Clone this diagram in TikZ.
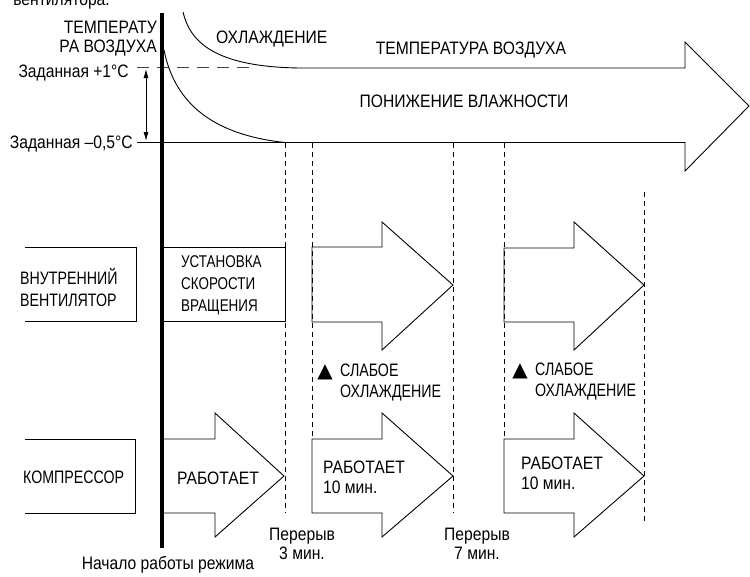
\documentclass[tikz,border=0pt]{standalone}
\usepackage{fontspec}
\setmainfont[FakeStretch=0.87]{Liberation Sans}
\newfontfamily\narrowfont[FakeStretch=0.79]{Liberation Sans}
\newfontfamily\symfont{DejaVu Sans}
\usetikzlibrary{arrows.meta}

\begin{document}
\begin{tikzpicture}[x=1pt,y=-1pt,
  lbl/.style={inner sep=0pt,font=\fontsize{18}{20}\selectfont},
  blk/.style={line width=0.9pt,line join=miter},
  tick/.style={line width=0.6pt,dash pattern=on 5pt off 4pt},
  tri/.style={inner sep=0pt,font=\fontsize{20}{20}\selectfont\symfont}]
\useasboundingbox (0,0) rectangle (750,576);

%Shape: set point +1 (dashed)
\draw [line width=0.8pt,black!75,dash pattern=on 12pt off 8pt] (137,67.5) -- (255,67.5);
%Shape: big arrow, air temperature
\draw [blk] (183,12) .. controls (190,42) and (215,67) .. (300,68) -- (685,68) -- (685,42) -- (749,106) -- (685,171) -- (685,142.5) -- (137,142.5);
%Shape: lower curve
\draw [blk] (164,50) .. controls (175,105) and (215,135) .. (285,142.5);

%Shape: start line
\draw [line width=3.5pt] (162,13) -- (162,548);

% set point span
\coordinate (hi) at (146,69);
\coordinate (lo) at (146,141);
\draw [line width=0.8pt,{Latex[length=9pt,width=5pt]}-{Latex[length=9pt,width=5pt]}] (hi) -- (lo);

%Shape: dashed time marks
\draw [tick] (285,143) -- (285,513);
\draw [tick] (312,143) -- (312,439);
\draw [tick] (453,143) -- (453,513);
\draw [tick] (504,143) -- (504,439);
\draw [tick] (644,192) -- (644,523);

%Shape: fan row
\draw [blk] (25,247) -- (136,247) -- (136,321) -- (25,321);
\draw [blk] (162,247) rectangle (285,321);
\draw [blk] (312,247) -- (382,247) -- (382,222) -- (453,285) -- (382,350) -- (382,322) -- (312,322) -- cycle;
\draw [blk] (504,248) -- (574,248) -- (574,222) -- (644,285) -- (574,350) -- (574,322) -- (504,322) -- cycle;

%Shape: compressor row
\draw [blk] (25,439) -- (135,439) -- (135,513) -- (25,513);
\draw [blk] (162,439) -- (215,439) -- (215,413) -- (284,476) -- (215,537) -- (215,513) -- (162,513);
\draw [blk] (312,439) -- (382,439) -- (382,413) -- (453,476) -- (382,537) -- (382,513) -- (312,513) -- cycle;
\draw [blk] (504,439) -- (574,439) -- (574,413) -- (644,476) -- (574,537) -- (574,513) -- (504,513) -- cycle;

% Text Node
\node (cut) [lbl,anchor=base east] at (110,5) {вентилятора.};
% Text Node
\node (tair) [lbl,anchor=east,align=right,font=\fontsize{18}{19}\selectfont] at (157,38.5) {ТЕМПЕРАТУ\\РА ВОЗДУХА};
% Text Node
\node (sethi) [lbl,anchor=base east] at (129,77) {Заданная +1°C};
% Text Node
\node (setlo) [lbl,anchor=base east] at (133,148) {Заданная –0,5°C};
% Text Node
\node (cool) [lbl,anchor=base west] at (216,43.5) {ОХЛАЖДЕНИЕ};
% Text Node
\node (tairb) [lbl] at (471,50) {ТЕМПЕРАТУРА ВОЗДУХА};
% Text Node
\node (dehum) [lbl] at (464,101.5) {ПОНИЖЕНИЕ ВЛАЖНОСТИ};
% Text Node
\node (fan) [lbl,anchor=west,align=left,font=\fontsize{18}{22}\selectfont\narrowfont] at (20,287) {ВНУТРЕННИЙ\\ВЕНТИЛЯТОР};
% Text Node
\node (speed) [lbl,anchor=west,align=left,font=\fontsize{17}{22}\selectfont\narrowfont] at (181,285) {УСТАНОВКА\\СКОРОСТИ\\ВРАЩЕНИЯ};
% Text Node
\node (triA) [tri] at (325,372) {▲};
\node (weakA) [lbl,anchor=west,align=left,font=\fontsize{18}{21}\selectfont\narrowfont] at (340,383) {СЛАБОЕ\\ОХЛАЖДЕНИЕ};
% Text Node
\node (triB) [tri] at (520,371) {▲};
\node (weakB) [lbl,anchor=west,align=left,font=\fontsize{18}{21}\selectfont\narrowfont] at (535,382) {СЛАБОЕ\\ОХЛАЖДЕНИЕ};
% Text Node
\node (comp) [lbl,anchor=west,font=\fontsize{18}{20}\selectfont\narrowfont] at (23,477) {КОМПРЕССОР};
% Text Node
\node (runA) [lbl,anchor=west] at (177,478) {РАБОТАЕТ};
% Text Node
\node (runB) [lbl,anchor=west,align=left] at (323,477) {РАБОТАЕТ\\10 мин.};
% Text Node
\node (runC) [lbl,anchor=west,align=left] at (521,473) {РАБОТАЕТ\\10 мин.};
% Text Node
\node (pauseA) [lbl,align=center,font=\fontsize{18}{19}\selectfont] at (302,543.5) {Перерыв\\3 мин.};
% Text Node
\node (pauseB) [lbl,align=center,font=\fontsize{18}{19}\selectfont] at (477,544) {Перерыв\\7 мин.};
% Text Node
\node (start) [lbl] at (168,565) {Начало работы режима};

\end{tikzpicture}
\end{document}
